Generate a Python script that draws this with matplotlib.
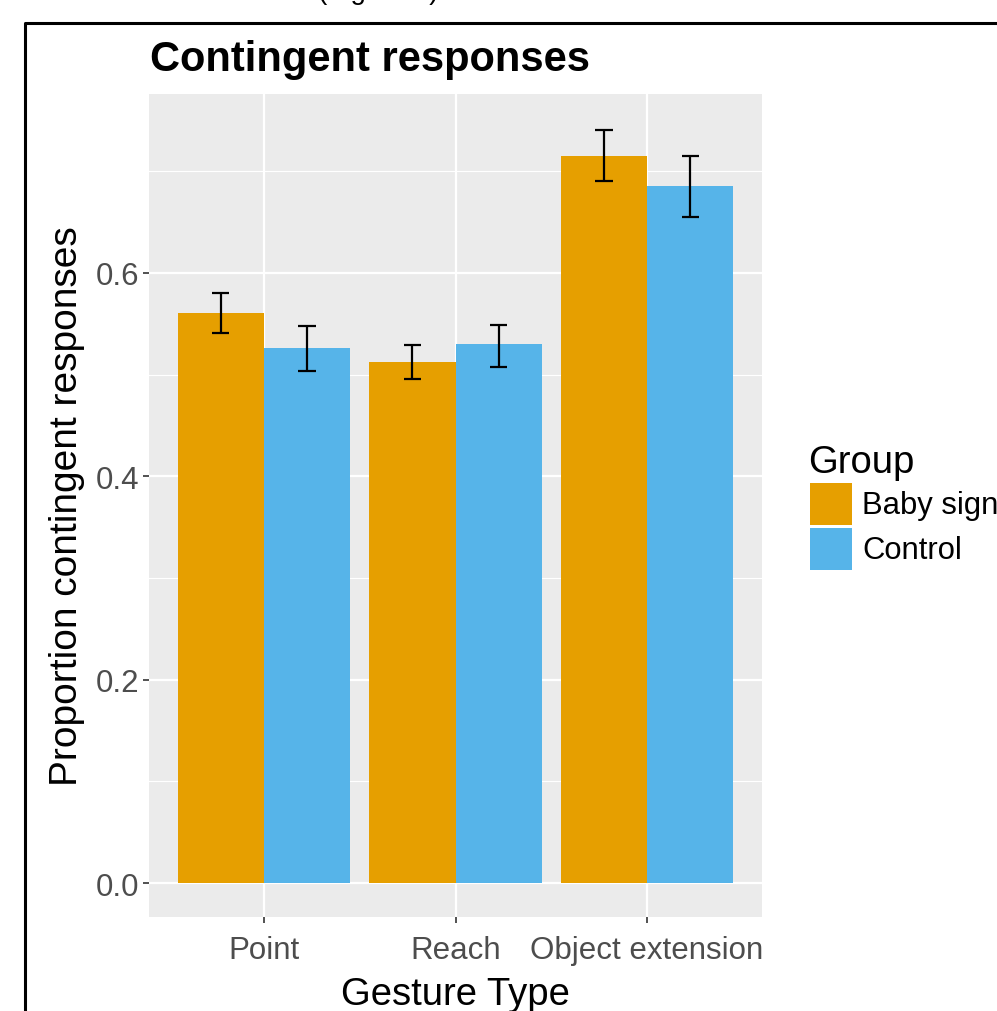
import matplotlib
matplotlib.use("Agg")
import matplotlib.pyplot as plt
from matplotlib.lines import Line2D
from matplotlib.patches import Rectangle
import numpy as np

categories = ["Point", "Reach", "Object extension"]
groups = ["Baby sign", "Control"]
means = {
    "Baby sign": [0.561, 0.512, 0.715],
    "Control": [0.526, 0.530, 0.686],
}
lower = {
    "Baby sign": [0.541, 0.496, 0.690],
    "Control": [0.504, 0.508, 0.655],
}
upper = {
    "Baby sign": [0.580, 0.529, 0.741],
    "Control": [0.548, 0.549, 0.715],
}
colors = {"Baby sign": "#E69F00", "Control": "#56B4E9"}
yticks = [0.0, 0.2, 0.4, 0.6]

W, H = 997, 1012
fig = plt.figure(figsize=(W / 100, H / 100), dpi=100)
plt.rcParams["font.family"] = ["Liberation Sans", "DejaVu Sans"]

ax = fig.add_axes([149 / W, 1 - 918 / H, (762 - 149) / W, (918 - 95) / H])
ax.set_facecolor("#EBEBEB")
for s in ax.spines.values():
    s.set_visible(False)

x = np.arange(1, len(categories) + 1)
bw = 0.45
for i, g in enumerate(groups):
    pos = x + (i - 0.5) * bw
    ax.bar(pos, means[g], width=bw, color=colors[g], edgecolor="none", zorder=3)
    cw = 0.2 * bw / 2
    ax.vlines(pos, lower[g], upper[g], color="black", lw=1.6, zorder=4)
    ax.hlines(lower[g], pos - cw, pos + cw, color="black", lw=1.6, zorder=4)
    ax.hlines(upper[g], pos - cw, pos + cw, color="black", lw=1.6, zorder=4)

ax.set_xlim(0.4, 3.6)
ax.set_ylim(-0.0334, 0.776)
ax.set_yticks(yticks)
ax.set_yticklabels([f"{v:.1f}" for v in yticks])
ax.set_yticks([0.1, 0.3, 0.5, 0.7], minor=True)
ax.set_xticks(x)
ax.set_xticklabels(categories)
ax.grid(True, which="major", color="white", lw=1.6, zorder=0)
ax.grid(True, which="minor", axis="y", color="white", lw=0.8, zorder=0)
ax.set_axisbelow(True)
ax.tick_params(axis="both", which="major", colors="#333333", labelcolor="#4D4D4D",
               labelsize=22.5, length=4, width=1.2, pad=3)
ax.tick_params(axis="y", which="minor", length=0)
ax.tick_params(axis="x", pad=9)

ax.set_xlabel("Gesture Type", fontsize=27.5, labelpad=8)
ax.set_ylabel("Proportion contingent responses", fontsize=28, labelpad=8)

fig.text(150 / W, 1 - 60 / H, "Contingent responses", fontsize=30, fontweight="bold",
         ha="left", va="center")

# legend
fig.text(808 / W, 1 - 463 / H, "Group", fontsize=27.5, ha="left", va="center")
for i, g in enumerate(groups):
    top = 484 + i * 45
    fig.patches.append(Rectangle((810 / W, 1 - (top + 42) / H), 42 / W, 42 / H,
                                 transform=fig.transFigure, facecolor=colors[g],
                                 edgecolor="none"))
    fig.text(862 / W, 1 - (top + 22) / H, g, fontsize=22.3, ha="left", va="center")

# frame and cut-off caption from the original page
fig.lines.append(Line2D([25 / W, 25 / W, 1.0], [0.0, 1 - 24 / H, 1 - 24 / H],
                        transform=fig.transFigure, color="black", lw=2.2))
fig.text(378 / W, 1 + 8 / H, "(Figure 4)", fontsize=20, ha="center", va="center")

fig.savefig("out.png", dpi=100)
